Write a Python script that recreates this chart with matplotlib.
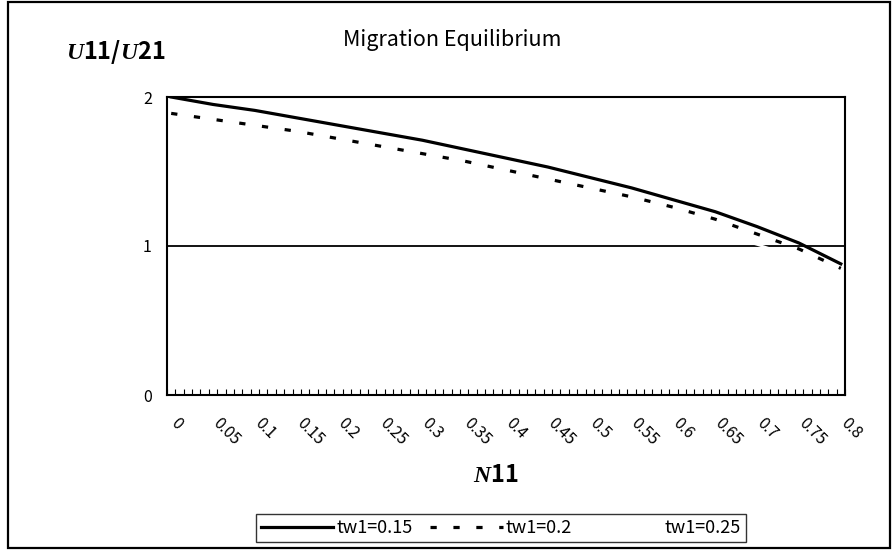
import numpy as np
import matplotlib
matplotlib.use("Agg")
import matplotlib.pyplot as plt
from matplotlib.patches import Rectangle
from matplotlib.ticker import FixedLocator

plt.rcParams['font.family'] = ['Noto Sans CJK JP', 'DejaVu Sans']
plt.rcParams['mathtext.fontset'] = 'custom'
plt.rcParams['mathtext.it'] = 'Liberation Serif:italic:bold'
plt.rcParams['lines.scale_dashes'] = False

# Data
n11 = [0.00, 0.05, 0.10, 0.15, 0.20, 0.25, 0.30, 0.35, 0.40, 0.45,
       0.50, 0.55, 0.60, 0.65, 0.70, 0.75, 0.80]
tw015 = [2.00, 1.95, 1.91, 1.86, 1.81, 1.76, 1.71, 1.65, 1.59, 1.53,
         1.46, 1.39, 1.31, 1.23, 1.13, 1.02, 0.88]
tw020 = [1.89, 1.85, 1.81, 1.77, 1.72, 1.67, 1.62, 1.57, 1.51, 1.45,
         1.39, 1.33, 1.26, 1.18, 1.08, 0.98, 0.85]
tw025 = [1.78, 1.74, 1.70, 1.66, 1.61, 1.57, 1.52, 1.47, 1.42, 1.36,
         1.30, 1.24, 1.17, 1.09, 1.01, 0.92, 0.80]
x_tick_labels = ['0', '0.05', '0.1', '0.15', '0.2', '0.25', '0.3', '0.35', '0.4',
                 '0.45', '0.5', '0.55', '0.6', '0.65', '0.7', '0.75', '0.8']
y_ticks = [0, 1, 2]

fig = plt.figure(figsize=(8.92, 5.5), dpi=100)
fig.patches.append(Rectangle((8/892, 2/550), 882/892, 546/550, transform=fig.transFigure,
                             fill=False, edgecolor='black', linewidth=1.6))
ax = fig.add_axes([167/892, 1 - 395/550, (845 - 167)/892, (395 - 97)/550])

ax.axhline(1, color='black', linewidth=1.3, zorder=1)
ax.plot(n11, tw015, color='black', linewidth=2.3, label='tw1=0.15', zorder=3)
ax.plot(n11, tw020, color='black', linewidth=2.3, dashes=(4.5, 12), label='tw1=0.2', zorder=3)
ax.plot(n11, tw025, color='white', linewidth=1.8, label='tw1=0.25', zorder=4)

ax.set_xlim(-0.005, 0.805)
ax.set_ylim(0, 2)

xt = [float(v) for v in x_tick_labels]
ax.set_xticks(xt)
ax.set_xticklabels([])
for v, lab in zip(xt, x_tick_labels):
    ax.annotate(lab, xy=(v, 0), xycoords=('data', 'axes fraction'),
                xytext=(6, -14), textcoords='offset points',
                rotation=-45, ha='left', va='top', rotation_mode='anchor',
                fontsize=11.5, annotation_clip=False)
ax.xaxis.set_minor_locator(FixedLocator([-0.005 + 0.01 * k for k in range(82)]))
ax.tick_params(axis='x', which='major', length=0)
ax.tick_params(axis='x', which='minor', direction='in', length=4, width=0.8)

ax.set_yticks(y_ticks)
ax.set_yticklabels([str(v) for v in y_ticks], fontsize=11.5)
ax.tick_params(axis='y', length=0, pad=11)

for s in ax.spines.values():
    s.set_linewidth(1.5)

fig.text(452/892, 1 - 40/550, 'Migration Equilibrium', ha='center', va='center', fontsize=15.5)
fig.text(66/892, 1 - 52/550, r'$\mathit{U}$11/$\mathit{U}$21', ha='left', va='center',
         fontsize=17, fontweight='bold')
fig.text(496/892, 1 - 475/550, r'$\mathit{N}$11', ha='center', va='center',
         fontsize=17, fontweight='bold')

leg = fig.legend(loc='center', bbox_to_anchor=(501/892, 1 - 528/550), ncol=3,
                 frameon=True, fancybox=False, edgecolor='black', fontsize=13,
                 handlelength=4.0, handletextpad=0.15, columnspacing=1.0,
                 borderpad=0.3)
leg.get_frame().set_linewidth(1.0)

fig.savefig('out.png', dpi=100)
